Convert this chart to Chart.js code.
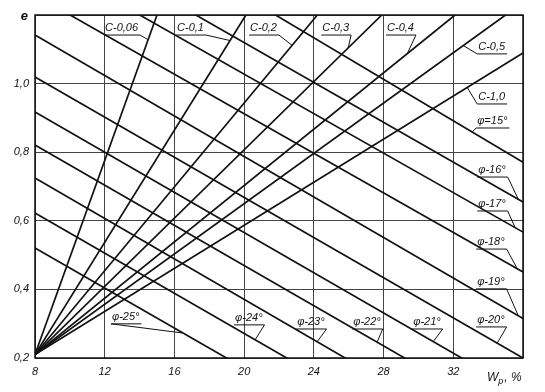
<!DOCTYPE html>
<html>
<head>
<meta charset="utf-8">
<script src="https://cdn.jsdelivr.net/npm/chart.js@4.4.0/dist/chart.umd.min.js"></script>
<style>
  html, body { margin: 0; padding: 0; background: #fff; }
  #wrap { width: 545px; height: 392px; }
</style>
</head>
<body>
<div id="wrap"><canvas id="chart"></canvas></div>
<script>
// номограмма e = f(Wp): лучи C и прямые φ
const wMin = 8, wMax = 36;
const eMin = 0.2, eMax = 1.2;

// лучи C выходят из общей точки
const cStartW = 8;
const cStartE = 0.21;
const cLabels = ['C-0,06', 'C-0,1', 'C-0,2', 'C-0,3', 'C-0,4', 'C-0,5', 'C-1,0'];
const cEndW = [15.0, 20.1, 24.2, 27.9, 32.1, 35.0, 36];
const cEndE = [1.2, 1.2, 1.2, 1.2, 1.2, 1.2, 1.089];

// прямые φ: значение e при Wp = 8 и при Wp = 36
const phiLabels = ['φ=15°', 'φ-16°', 'φ-17°', 'φ-18°', 'φ-19°', 'φ-20°',
                   'φ-21°', 'φ-22°', 'φ-23°', 'φ-24°', 'φ-25°'];
const phiE8  = [1.617, 1.468, 1.373, 1.258, 1.142, 1.019, 0.917, 0.821, 0.725, 0.623, 0.521];
const phiE36 = [0.771, 0.655, 0.567, 0.451, 0.315, 0.200, 0.097, 0.001, -0.101, -0.197, -0.297];

// подписи: место текста (в единицах осей), сторона выноски, точка на линии
const cLabW    = [12.02, 16.15, 20.34, 24.48, 28.2, 33.43, 33.43];
const cLabE    = [1.162, 1.162, 1.162, 1.162, 1.162, 1.107, 0.961];
const cLabSide = ['r', 'r', 'r', 'r', 'r', 'l', 'l'];
const cLeadW   = [14.49, 19.19, 22.75, 25.97, 29.36, 32.57, 32.8];

const phiLabW    = [33.37, 33.43, 33.43, 33.37, 33.37, 33.37, 29.7, 26.26, 23.04, 19.48, 12.42];
const phiLabE    = [0.891, 0.748, 0.649, 0.538, 0.422, 0.311, 0.305, 0.305, 0.305, 0.317, 0.32];
const phiLabSide = ['l', 'r', 'r', 'r', 'r', 'r', 'r', 'r', 'r', 'r', 'l'];
const phiLeadW   = [33.09, 35.73, 35.55, 35.67, 35.73, 34.52, 30.85, 27.63, 24.19, 20.63, 16.5];

const ink = '#111';
const labelFont = 'italic 11px "Liberation Sans", "DejaVu Sans", sans-serif';

function cAt(i, w) {
    return cStartE + (cEndE[i] - cStartE) * (w - cStartW) / (cEndW[i] - cStartW);
}
function phiAt(i, w) {
    return phiE8[i] + (phiE36[i] - phiE8[i]) * (w - wMin) / (wMax - wMin);
}

const datasets = [];
for (let i = 0; i < cLabels.length; i++) {
    datasets.push({
        label: cLabels[i],
        data: [{ x: cStartW, y: cStartE }, { x: cEndW[i], y: cEndE[i] }]
    });
}
for (let i = 0; i < phiLabels.length; i++) {
    datasets.push({
        label: phiLabels[i],
        data: [{ x: wMin, y: phiE8[i] }, { x: wMax, y: phiE36[i] }]
    });
}

const notes = {
    id: 'notes',
    afterDraw(chart) {
        const { ctx, chartArea: a } = chart;
        const x = chart.scales.x, y = chart.scales.y;
        ctx.save();

        // рамка
        ctx.strokeStyle = ink;
        ctx.lineWidth = 1.5;
        ctx.strokeRect(a.left, a.top, a.right - a.left, a.bottom - a.top);

        ctx.font = labelFont;
        ctx.fillStyle = ink;
        ctx.lineWidth = 1;
        ctx.textBaseline = 'middle';
        ctx.textAlign = 'left';

        function note(text, w, e, side, tw, te) {
            const px = x.getPixelForValue(w);
            const py = y.getPixelForValue(e);
            const tWidth = ctx.measureText(text).width;
            ctx.fillText(text, px, py);
            const uy = py + 7;
            ctx.beginPath();
            ctx.moveTo(px - 1, uy);
            ctx.lineTo(px + tWidth + 2, uy);
            const sx = side === 'r' ? px + tWidth + 2 : px - 1;
            ctx.moveTo(sx, uy);
            ctx.lineTo(x.getPixelForValue(tw), y.getPixelForValue(te));
            ctx.stroke();
        }

        for (let i = 0; i < cLabels.length; i++) {
            note(cLabels[i], cLabW[i], cLabE[i], cLabSide[i], cLeadW[i], cAt(i, cLeadW[i]));
        }
        for (let i = 0; i < phiLabels.length; i++) {
            note(phiLabels[i], phiLabW[i], phiLabE[i], phiLabSide[i], phiLeadW[i], phiAt(i, phiLeadW[i]));
        }

        // подписи осей
        ctx.font = 'bold italic 13px "Liberation Sans", sans-serif';
        ctx.textAlign = 'right';
        ctx.fillText('e', a.left - 7, a.top + 1);

        ctx.textAlign = 'left';
        ctx.font = 'italic 12px "Liberation Sans", sans-serif';
        let tx = a.right - 36;
        const ty = a.bottom + 20;
        ctx.fillText('W', tx, ty);
        tx += ctx.measureText('W').width;
        ctx.font = 'italic 9px "Liberation Sans", sans-serif';
        ctx.fillText('p', tx, ty + 3);
        tx += ctx.measureText('p').width + 1;
        ctx.font = 'italic 12px "Liberation Sans", sans-serif';
        ctx.fillText(', %', tx, ty);

        ctx.restore();
    }
};

new Chart(document.getElementById('chart').getContext('2d'), {
    type: 'line',
    data: { datasets: datasets },
    options: {
        responsive: true,
        maintainAspectRatio: false,
        animation: false,
        layout: { padding: { top: 15, right: 22, left: 0, bottom: 0 } },
        elements: {
            line: { borderColor: ink, borderWidth: 1.7, tension: 0, fill: false },
            point: { radius: 0, hoverRadius: 0 }
        },
        plugins: {
            legend: { display: false },
            tooltip: { enabled: false }
        },
        scales: {
            x: {
                type: 'linear',
                min: wMin,
                max: wMax,
                afterFit(s) { s.height = 34; },
                border: { display: false },
                grid: { color: '#444', lineWidth: 1, drawTicks: false },
                ticks: {
                    stepSize: 4,
                    autoSkip: false,
                    maxRotation: 0,
                    padding: 7,
                    color: ink,
                    font: { family: '"Liberation Sans", sans-serif', size: 11, style: 'italic' },
                    callback: v => (v === wMax ? '' : String(v))
                }
            },
            y: {
                type: 'linear',
                min: eMin,
                max: eMax,
                afterFit(s) { s.width = 35; },
                border: { display: false },
                grid: { color: '#444', lineWidth: 1, drawTicks: false },
                ticks: {
                    stepSize: 0.2,
                    autoSkip: false,
                    padding: 6,
                    color: ink,
                    font: { family: '"Liberation Sans", sans-serif', size: 11, style: 'italic' },
                    callback: v => (Math.abs(v - eMax) < 1e-6 ? '' : v.toFixed(1).replace('.', ','))
                }
            }
        }
    },
    plugins: [notes]
});
</script>
</body>
</html>
